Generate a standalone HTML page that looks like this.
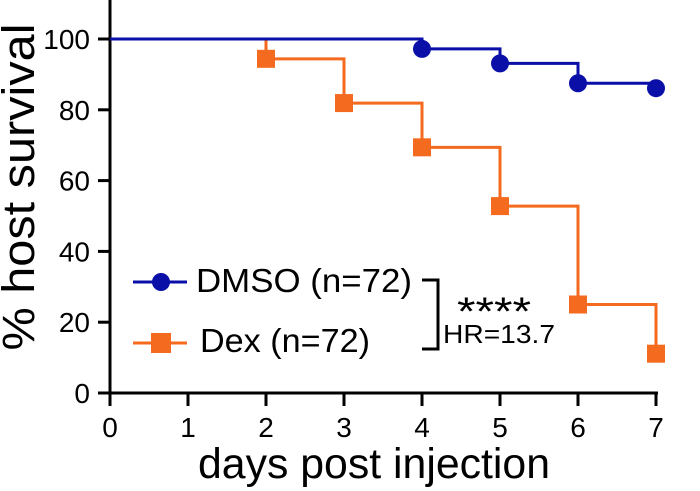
<!DOCTYPE html>
<html><head><meta charset="utf-8"><style>
body{margin:0;background:#fff;}
svg{display:block;font-family:"Liberation Sans",Arial,sans-serif;}
</style></head><body>
<svg id="chart" width="700" height="491">
<g id="axes"></g><g id="series"></g>
<g>
 <line x1="133" y1="282" x2="187" y2="282" stroke="#0a0fa8" stroke-width="3"/>
 <circle cx="161" cy="282" r="9" fill="#0a0fa8"/>
 <text x="196" y="292" font-size="33" textLength="216" lengthAdjust="spacingAndGlyphs">DMSO (n=72)</text>
 <line x1="133" y1="343" x2="187" y2="343" stroke="#f46a1e" stroke-width="3"/>
 <rect x="151" y="333" width="20" height="20" fill="#f46a1e"/>
 <text x="200" y="352" font-size="33" textLength="170" lengthAdjust="spacingAndGlyphs">Dex (n=72)</text>
 <path d="M422 280 H438 V349 H422" fill="none" stroke="#000" stroke-width="3"/>
 <text x="457" y="325" font-size="40" textLength="74" lengthAdjust="spacingAndGlyphs">****</text>
 <text x="443" y="343" font-size="26" textLength="112" lengthAdjust="spacingAndGlyphs">HR=13.7</text>
</g>
<text x="374" y="478" font-size="43" text-anchor="middle" textLength="352" lengthAdjust="spacingAndGlyphs">days post injection</text>
<text transform="translate(34,187) rotate(-90)" font-size="45" text-anchor="middle" textLength="327" lengthAdjust="spacingAndGlyphs">% host survival</text>
</svg>
<script>
const days=[0,1,2,3,4,5,6,7];
const yTicks=[0,20,40,60,80,100];
const dmsoDays=[0,4,5,6,7];
const dmsoSurv=[100,97.2,93.1,87.5,86.1];
const dexDays=[0,2,3,4,5,6,7];
const dexSurv=[100,94.4,81.9,69.4,52.8,25,11.1];
const NS='http://www.w3.org/2000/svg';
const X=d=>110+d*78, Y=v=>393-v*3.54;
function mk(t,a,p){const e=document.createElementNS(NS,t);for(const k in a)e.setAttribute(k,a[k]);p.appendChild(e);return e;}
const ax=document.getElementById('axes'), se=document.getElementById('series');
const yl=mk('line',{x1:110,y1:0,x2:110,y2:406,stroke:'#000','stroke-width':3},ax);


const xl=mk('line',{x1:98,y1:393,x2:658,y2:393,stroke:'#000','stroke-width':3},ax);


yTicks.forEach(v=>{mk('line',{x1:98,y1:Y(v),x2:110,y2:Y(v),stroke:'#000','stroke-width':3},ax);
 const t=mk('text',{x:90,y:Y(v)+10,'font-size':28,'text-anchor':'end'},ax);t.textContent=v;
 
 });
days.forEach(d=>{mk('line',{x1:X(d),y1:393,x2:X(d),y2:406,stroke:'#000','stroke-width':3},ax);
 const t=mk('text',{x:X(d),y:437,'font-size':28,'text-anchor':'middle'},ax);t.textContent=d;
 
 });
function draw(ds,vs,col,shape,name){
 let d='M'+X(ds[0])+' '+Y(vs[0]);
 for(let i=1;i<ds.length;i++){d+=' H'+X(ds[i])+' V'+Y(vs[i]);}
 const p=mk('path',{d:d,fill:'none',stroke:col,'stroke-width':3},se);
 
 
 for(let i=1;i<ds.length;i++){let m;
  if(shape==='c')m=mk('circle',{cx:X(ds[i]),cy:Y(vs[i]),r:9,fill:col},se);
  else m=mk('rect',{x:X(ds[i])-9,y:Y(vs[i])-9,width:18,height:18,fill:col},se);
  
  }
}
draw(dexDays,dexSurv,'#f46a1e','s','dex');
draw(dmsoDays,dmsoSurv,'#0a0fa8','c','dmso');
</script>
</body></html>
